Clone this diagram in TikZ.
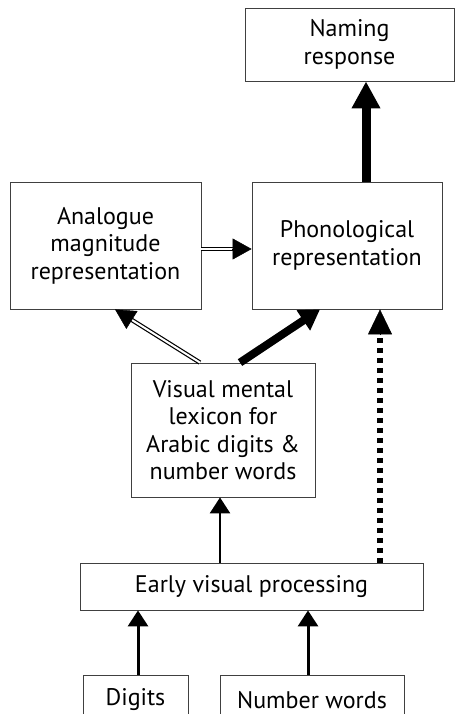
\documentclass[tikz,border=0pt]{standalone}
\usepackage{fontspec}
\setmainfont{PT Sans}
\usetikzlibrary{arrows.meta,calc}
\begin{document}
\begin{tikzpicture}[x=1pt,y=-1pt,
  box/.style={draw=black!75,line width=0.8pt,align=center,inner sep=0pt,
    font=\fontsize{24}{27.5}\selectfont},
  thin/.style={line width=2.6pt,-{Triangle[length=16pt,width=20pt]}},
  fat/.style={line width=9pt,-{Triangle[length=27pt,width=27pt]}},
  diagfat/.style={line width=8pt,-{Triangle[length=20pt,width=23pt]}},
  dbl/.style={double=white,double distance=2pt,line width=1.2pt},
  tip/.style={line width=0.5pt}]
\useasboundingbox (0,0) rectangle (455,714);
\node[box,minimum width=209pt,minimum height=73pt] (nam) at (349.5,44.5) {Naming\\response};
\node[box,minimum width=191pt,minimum height=127pt] (ana) at (105.5,245.5) {Analogue\\magnitude\\representation};
\node[box,minimum width=190pt,minimum height=127pt] (pho) at (347,245.5) {Phonological\\representation};
\node[box,minimum width=184pt,minimum height=134pt] (lex) at (223,430) {Visual mental\\lexicon for\\Arabic digits \&\\number words};
\node[box,minimum width=343pt,minimum height=47pt] (ear) at (251.5,586.5) {Early visual processing};
\node[box,minimum width=105pt,minimum height=50pt] (dig) at (135.5,700) {Digits};
\node[box,minimum width=184pt,minimum height=50pt] (num) at (312,700) {Number words};
% arrows
\draw[fat] (pho.north -| 366,0) -- (nam.south -| 366,0);
\draw[dbl,shorten >=18pt] (ana.east |- 0,249) -- (pho.west |- 0,249);
\draw[tip,-{Triangle[length=19pt,width=21pt]}] (232,249) -- (pho.west |- 0,249);
\coordinate (lexL) at (lex.north -| 200,0);
\coordinate (anaT) at (ana.south -| 115,0);
\draw[dbl,shorten >=17pt] (lexL) -- (anaT);
\draw[tip,-{Triangle[length=20pt,width=21pt]}] ($(anaT)!20pt!(lexL)$) -- (anaT);
\draw[diagfat] (lex.north -| 240,0) -- (pho.south -| 320,0);
\draw[thin] (ear.north -| 220,0) -- (lex.south -| 220,0);
\draw[line width=6pt,dash pattern=on 5pt off 5pt,shorten >=24pt] (ear.north -| 380,0) -- (pho.south -| 380,0);
\draw[tip,-{Triangle[length=25pt,width=24pt]}] (380,335) -- (pho.south -| 380,0);
\draw[thin,line width=3pt] (dig.north -| 138,0) -- (ear.south -| 138,0);
\draw[thin,line width=3pt] (num.north -| 308,0) -- (ear.south -| 308,0);
\end{tikzpicture}
\end{document}
